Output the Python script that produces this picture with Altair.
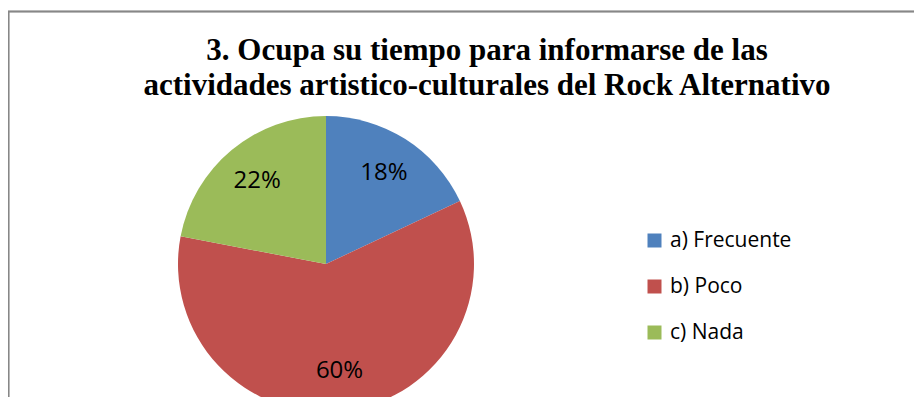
import altair as alt
import pandas as pd

categories = ["a) Frecuente", "b) Poco", "c) Nada"]
values = [18, 60, 22]
labels = ["18%", "60%", "22%"]
colors = ["#4F81BD", "#C0504D", "#9BBB59"]
title_lines = ["3. Ocupa su tiempo para informarse de las",
               "actividades artistico-culturales del Rock Alternativo"]

df = pd.DataFrame({"cat": categories, "val": values, "lab": labels,
                   "ord": list(range(len(categories)))})

CX, CY, R = 318, 256, 148

base = alt.Chart(df).encode(
    theta=alt.Theta("val:Q", stack=True),
    order=alt.Order("ord:Q"),
)

pie = base.mark_arc(stroke=None).encode(
    x=alt.value(CX), y=alt.value(CY),
    radius=alt.value(R),
    color=alt.Color("cat:N", scale=alt.Scale(domain=categories, range=colors),
                    legend=alt.Legend(
                        title=None, orient="none", legendX=636, legendY=222,
                        symbolType="square", symbolSize=196, symbolStrokeWidth=0,
                        labelFont="Open Sans", labelFontSize=21, labelColor="#000000",
                        labelOffset=5, rowPadding=24, labelLimit=300)),
)

text = base.mark_text(font="Open Sans", fontSize=24, color="#000000",
                      baseline="middle", align="center").encode(
    x=alt.value(CX), y=alt.value(CY),
    radius=alt.value(108),
    text="lab:N",
)

frame_top = alt.Chart(df).mark_rule(color="#878787", strokeWidth=1.5).encode(
    x=alt.value(0), x2=alt.value(906), y=alt.value(3.5))
frame_left = alt.Chart(df).mark_rule(color="#878787", strokeWidth=1.5).encode(
    x=alt.value(0.5), y=alt.value(3), y2=alt.value(389))

chart = alt.layer(frame_top, frame_left, pie, text).properties(
    width=906, height=389,
    autosize=alt.AutoSizeParams(type="none"),
    padding=0,
    title=alt.TitleParams(text=title_lines, font="Liberation Serif", fontSize=31,
                          fontWeight="bold", color="#000000", anchor="middle",
                          lineHeight=35, baseline="alphabetic", dx=26, dy=122),
).configure_view(stroke=None)

chart.save("out.html", embed_options={"renderer": "svg", "actions": False})
